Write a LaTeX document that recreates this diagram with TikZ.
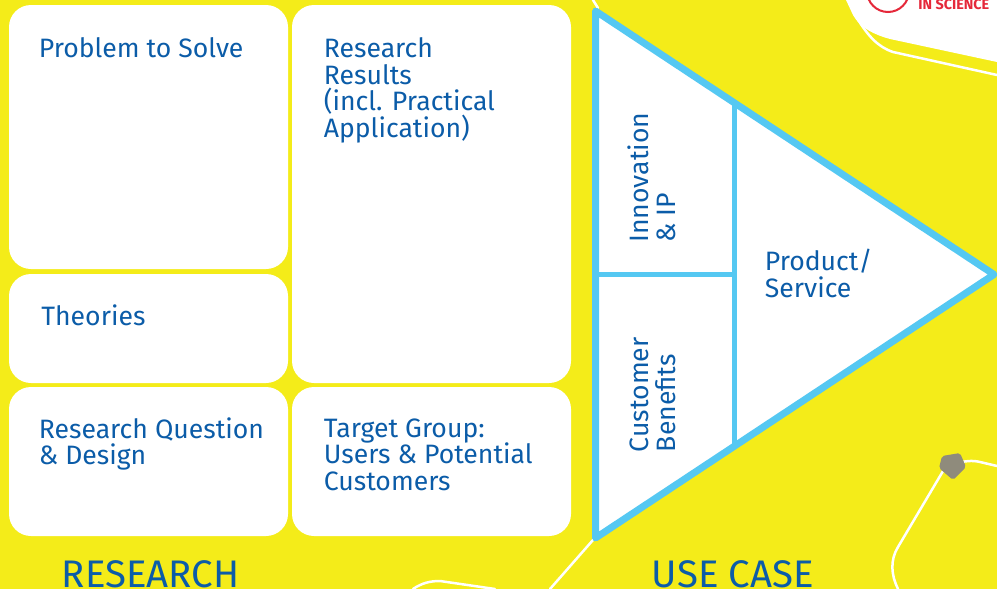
\documentclass[tikz,border=0pt]{standalone}
\usepackage{fontspec}
\setmainfont{Fira Sans}
\usetikzlibrary{positioning}
\definecolor{bgYellow}{HTML}{F4EC19}
\definecolor{textBlue}{HTML}{0B5CA8}
\definecolor{lineCyan}{HTML}{55C8F2}
\definecolor{logoRed}{HTML}{E5283A}
\definecolor{knotGrey}{HTML}{8F8B7C}
\tikzset{
  cardbox/.style={fill=white, rounded corners=11pt},
  cardtext/.style={anchor=north west, inner sep=0pt, align=left, text=textBlue, font=\fontsize{13.3}{13.3}\selectfont},
  sidetext/.style={cardtext, anchor=south west, rotate=90},
  headtext/.style={inner sep=0pt, anchor=base west, text=textBlue, font=\fontsize{19.2}{20}\selectfont},
  wireline/.style={white, line width=1.25pt, line cap=round},
}
\begin{document}
\begin{tikzpicture}[x=0.5pt, y=-0.5pt]
  \useasboundingbox (0,0) rectangle (997,589);
  \clip (0,0) rectangle (997,589);
  \fill[bgYellow] (0,0) rectangle (997,589);
  % logo corner
  \fill[white] (846,0) -- (853,15) .. controls (860,28) and (875,35) .. (890,39) -- (997,62) -- (997,0) -- cycle;
  \draw[logoRed, line width=1pt] (888,-9) circle (21);
  \node[inner sep=0pt, anchor=base west, text=logoRed, font=\bfseries\fontsize{7.2}{7.5}\selectfont] (logotext) at (918,10) {IN SCIENCE};
  % wires
  \draw[wireline] (857,18) .. controls (868,36) and (878,47) .. (893,52) -- (997,75);
  \draw[wireline] (593,0) -- (598,8);
  \draw[wireline] (593,540) -- (550,589);
  \draw[wireline] (413,589) .. controls (422,583) and (430,581) .. (440,581) -- (495,589);
  \draw[wireline] (946,466) -- (898,547) .. controls (890,560) and (891,575) .. (898,589);
  \draw[wireline] (952,464) .. controls (965,461) and (972,460) .. (980,462) -- (997,466);
  \fill[knotGrey, rounded corners=1pt] (942,456) -- (960,453) -- (966,467) -- (953,480) -- (939,468) -- cycle;
  % cards
  \fill[cardbox] (9,5) rectangle (288,269);
  \fill[cardbox] (9,274) rectangle (288,383);
  \fill[cardbox] (9,387) rectangle (288,536);
  \fill[cardbox] (292,5) rectangle (571,383);
  \fill[cardbox] (292,387) rectangle (571,536);
  \node[cardtext] (problem) at (38.5,37) {Problem to Solve};
  \node[cardtext] (theories) at (41,304.5) {Theories};
  \node[cardtext] (question) at (38.5,417) {Research Question\\\& Design};
  \node[cardtext] (results) at (323.5,37.5) {Research\\Results\\(incl. Practical\\Application)};
  \node[cardtext] (target) at (323.5,418) {Target Group:\\Users \& Potential\\Customers};
  % triangle
  \fill[white] (595.5,11) -- (994,274.5) -- (595.5,538) -- cycle;
  \draw[lineCyan, line width=2.5pt] (734.5,102) -- (734.5,447);
  \draw[lineCyan, line width=2.5pt] (595.5,274.5) -- (734.5,274.5);
  \draw[lineCyan, line width=3.5pt, line join=round] (595.5,11) -- (994,274.5) -- (595.5,538) -- cycle;
  \node[sidetext] (innovation) at (676,243) {Innovation\\\& IP};
  \node[sidetext] (benefits) at (676,452.5) {Customer\\Benefits};
  \node[cardtext] (product) at (764.5,249) {Product/\\Service};
  % headings
  \node[headtext] (research) at (61.5,587) {RESEARCH};
  \node[headtext] (usecase) at (651.5,587) {USE CASE};
\end{tikzpicture}
\end{document}
